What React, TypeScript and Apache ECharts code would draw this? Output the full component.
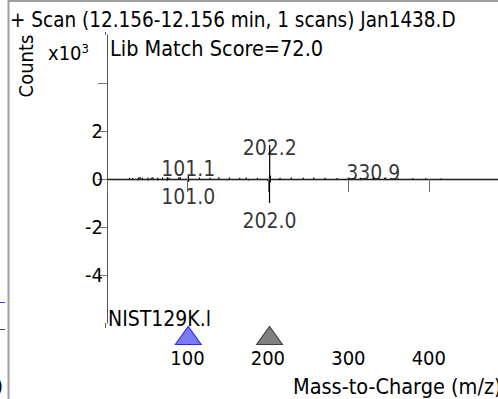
import React, { useEffect, useRef } from "react";
import * as echarts from "echarts";

// Sample (upper) spectrum, m/z and counts (x10^3)
const sampleMz = [28, 32, 39, 41, 44, 51, 55, 57, 63, 69, 75, 77, 89, 91, 101.1, 115, 128, 139, 152, 165, 173, 187, 202.2, 203, 215, 229, 244, 257, 271, 286, 301, 315, 330.9, 345, 362, 380, 396, 415];
const sampleCounts = [0.05, 0.04, 0.06, 0.08, 0.05, 0.06, 0.05, 0.07, 0.05, 0.06, 0.07, 0.05, 0.06, 0.08, 0.12, 0.06, 0.05, 0.07, 0.06, 0.05, 0.06, 0.05, 1.42, 0.15, 0.05, 0.06, 0.05, 0.06, 0.05, 0.04, 0.05, 0.04, 0.06, 0.03, 0.03, 0.03, 0.03, 0.02];

// Library (lower, mirrored) spectrum
const libMz = [39, 51, 63, 75, 101.0, 102, 150, 176, 200, 202.0, 203];
const libCounts = [-0.05, -0.06, -0.05, -0.07, -0.12, -0.06, -0.05, -0.06, -0.08, -1.0, -0.15];

// Annotated peaks: m/z, label anchor (counts x10^3)
const labelMz = [101.1, 202.2, 330.9, 101.0, 202.0];
const labelY = [0.4, 1.31, 0.27, -0.75, -1.73];

// Markers under the x axis
const markerMz = [101, 202];
const markerColors = ["#7a7af2", "#808080"];
const markerBorders = ["#2a2aff", "#404040"];

const X_MIN = 0;
const X_MAX = 486;
const Y_MIN = -6;
const Y_MAX = 6;

const FONT = "'DejaVu Sans Condensed', 'Liberation Sans', sans-serif";

export default function App() {
  const ref = useRef<HTMLDivElement>(null);
  useEffect(() => {
    if (!ref.current) return;
    const chart = echarts.init(ref.current, null, { renderer: "svg" });
    const sticks = sampleMz
      .map((m, i) => [m, sampleCounts[i]])
      .concat(libMz.map((m, i) => [m, libCounts[i]]));
    chart.setOption({
      animation: false,
      textStyle: { fontFamily: FONT },
      grid: { left: 107, right: 0, top: 35, bottom: 76 },
      xAxis: {
        type: "value",
        min: X_MIN,
        max: X_MAX,
        interval: 100,
        offset: 6,
        z: 5,
        axisLine: { lineStyle: { color: "#222", width: 1 } },
        axisTick: { length: 13, lineStyle: { color: "#666" } },
        axisLabel: {
          fontSize: 20,
          color: "#000",
          margin: 19,
          fontFamily: FONT,
          showMaxLabel: false,
          formatter: (v: number) => (v === 0 || v % 100 !== 0 ? "" : String(v)),
        },
        splitLine: { show: false },
      },
      yAxis: {
        type: "value",
        min: Y_MIN,
        max: Y_MAX,
        interval: 2,
        offset: 2,
        axisLine: { show: true, lineStyle: { color: "#555", width: 1 } },
        axisTick: { show: true, length: 9, lineStyle: { color: "#777" } },
        axisLabel: {
          fontSize: 20,
          color: "#000",
          margin: 2,
          fontFamily: FONT,
          padding: [5, 0, 0, 0],
          showMinLabel: false,
          showMaxLabel: false,
          formatter: (v: number) => (Math.abs(v) >= 4 && v > 0 ? "" : Math.abs(v) === 6 ? "" : String(v)),
        },
        splitLine: { show: false },
      },
      series: [
        {
          type: "custom",
          data: sticks,
          clip: false,
          renderItem: (params: any, api: any) => {
            const x = api.value(0);
            const y = api.value(1);
            const p0 = api.coord([x, 0]);
            const p1 = api.coord([x, y]);
            return {
              type: "line",
              shape: { x1: p0[0], y1: p0[1], x2: p1[0], y2: p1[1] },
              style: { stroke: "#000", lineWidth: 1.2 },
            };
          },
          markLine: {
            silent: true,
            symbol: "none",
            label: { show: false },
            lineStyle: { color: "#000", width: 1.4, type: "solid" },
            data: [{ yAxis: 0 }],
          },
        },
        {
          type: "scatter",
          symbolSize: 0,
          data: labelMz.map((m, i) => [m, labelY[i]]),
          label: {
            show: true,
            position: "inside",
            fontSize: 21,
            color: "#000",
            fontFamily: FONT,
            formatter: (p: any) => p.value[0].toFixed(1),
          },
        },
        {
          type: "scatter",
          symbol: "triangle",
          symbolSize: [26, 18],
          symbolOffset: [0, 12.5],
          clip: false,
          z: 3,
          data: markerMz.map((m, i) => ({
            value: [m, Y_MIN],
            itemStyle: { color: markerColors[i], borderColor: markerBorders[i], borderWidth: 1, opacity: 1 },
          })),
        },
      ],
      graphic: [
        { type: "line", shape: { x1: 8.5, y1: 0, x2: 8.5, y2: 399 }, style: { stroke: "#a0a0a0", lineWidth: 2 } },
        { type: "line", shape: { x1: 8, y1: 1, x2: 498, y2: 1 }, style: { stroke: "#a0a0a0", lineWidth: 2 } },
        { type: "line", shape: { x1: 105.5, y1: 32, x2: 105.5, y2: 35 }, style: { stroke: "#555", lineWidth: 1 } },
        { type: "line", shape: { x1: 105.5, y1: 323, x2: 105.5, y2: 328 }, style: { stroke: "#555", lineWidth: 1 } },
        { type: "line", shape: { x1: 0, y1: 302.5, x2: 5, y2: 302.5 }, style: { stroke: "#3030ff", lineWidth: 1 } },
        { type: "line", shape: { x1: 0, y1: 329.5, x2: 5, y2: 329.5 }, style: { stroke: "#444", lineWidth: 1 } },
        { type: "text", x: -4, y: 386, style: { text: ")", fontSize: 20, fill: "#000", fontFamily: FONT, verticalAlign: "middle" } },
        { type: "text", x: 10, y: 20, style: { text: "+ Scan (12.156-12.156 min, 1 scans) Jan1438.D", fontSize: 20.5, fill: "#000", fontFamily: FONT, verticalAlign: "middle" } },
        { type: "text", x: 26, y: 66, rotation: Math.PI / 2, style: { text: "Counts", fontSize: 20, fill: "#000", fontFamily: FONT, align: "center", verticalAlign: "middle" } },
        {
          type: "text",
          x: 48,
          y: 53,
          style: {
            text: "x10{sup|3}",
            fontSize: 20,
            fill: "#000",
            fontFamily: FONT,
            verticalAlign: "middle",
            rich: { sup: { fontSize: 13, verticalAlign: "bottom", padding: [0, 0, 10, 0], fontFamily: FONT } },
          },
        },
        { type: "text", x: 110, y: 48, style: { text: "Lib Match Score=72.0", fontSize: 21.5, fill: "#000", fontFamily: FONT, verticalAlign: "middle" } },
        { type: "text", x: 108, y: 319, style: { text: "NIST129K.l", fontSize: 21, fill: "#000", fontFamily: FONT, verticalAlign: "middle" } },
        { type: "text", x: 293, y: 386, style: { text: "Mass-to-Charge (m/z)", fontSize: 21.5, fill: "#000", fontFamily: FONT, verticalAlign: "middle" } },
      ],
    });
    return () => chart.dispose();
  }, []);
  return <div ref={ref} style={{ width: 498, height: 399, position: "absolute", left: 0, top: 0 }} />;
}
